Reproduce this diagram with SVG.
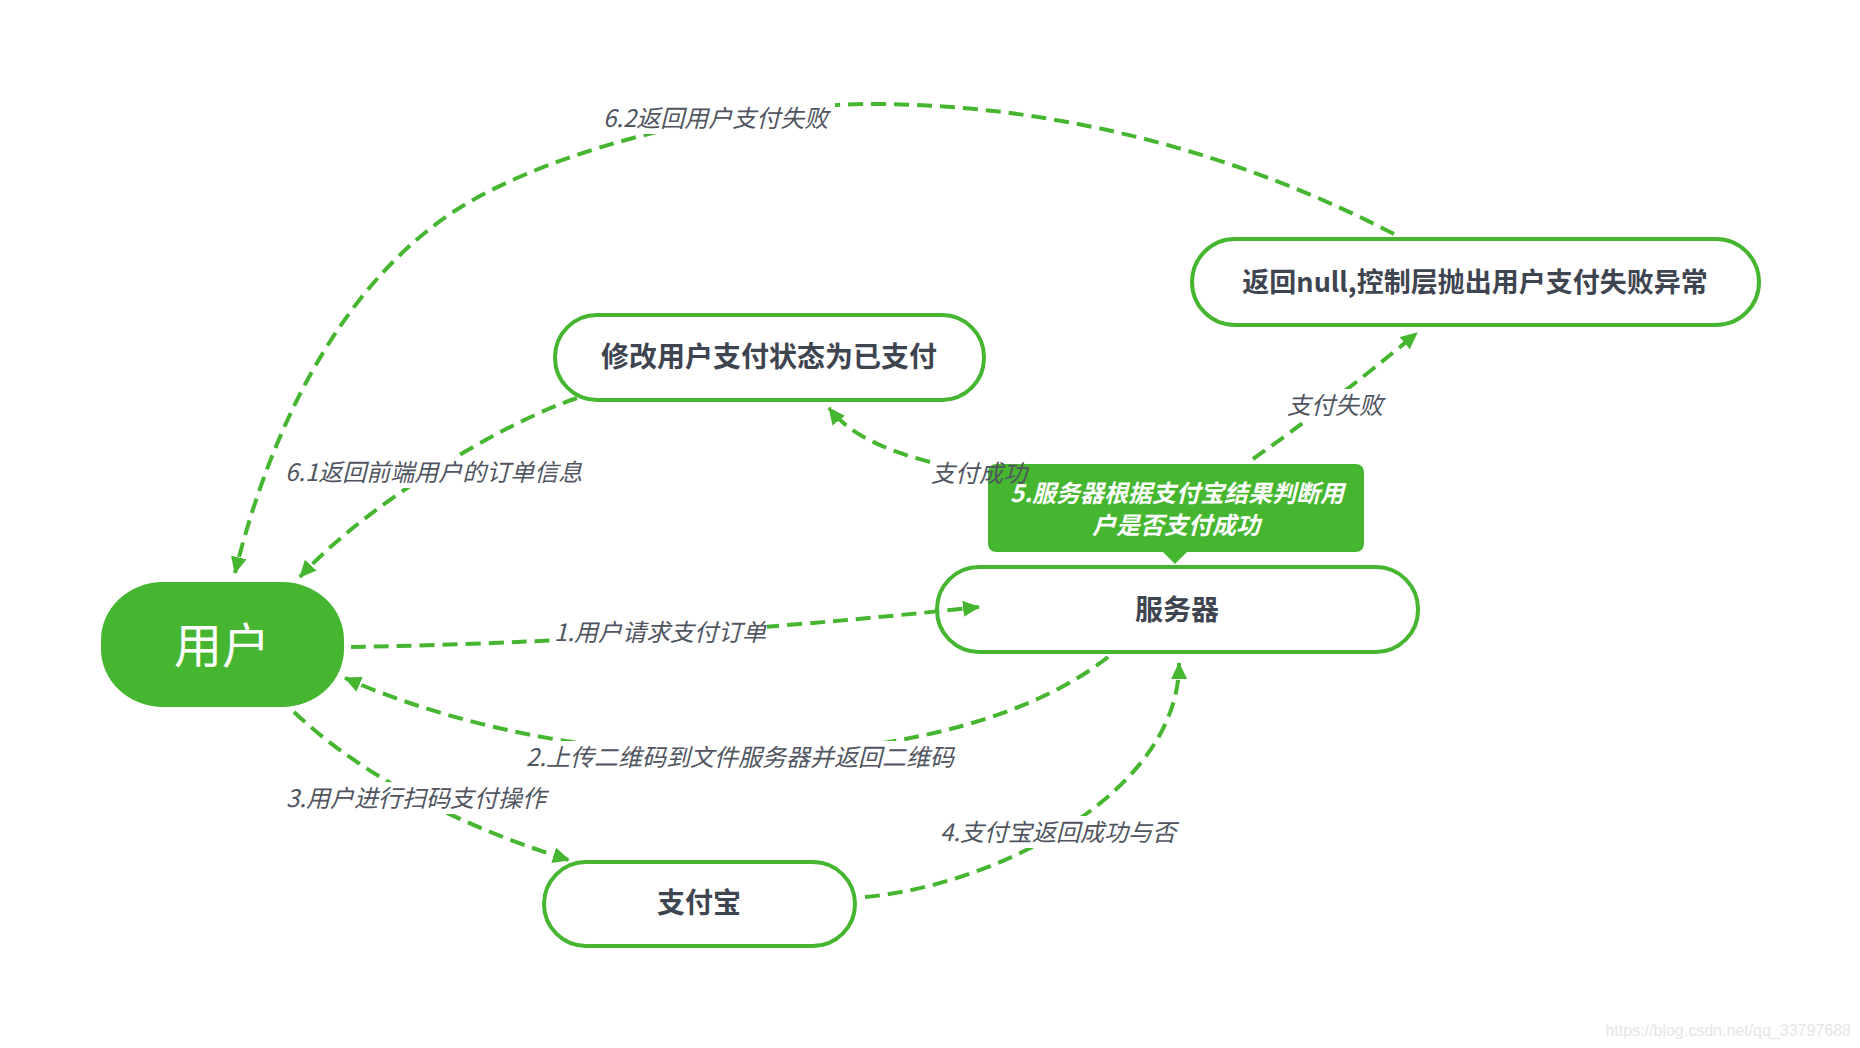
<svg xmlns="http://www.w3.org/2000/svg" width="1860" height="1048" viewBox="0 0 1860 1048">
<defs>
<style>
.node{fill:#ffffff;stroke:#46b630;stroke-width:4}
.ntxt{font-family:"Noto Sans CJK SC","Noto Sans",sans-serif;font-weight:700;font-size:28px;fill:#3e4450;text-anchor:middle}
.conn{fill:none;stroke:#46b630;stroke-width:4;stroke-dasharray:15 8}
.lbl{font-family:"Noto Sans CJK SC","Noto Sans",sans-serif;font-style:italic;font-size:24px;fill:#50555f}
.bg{fill:#ffffff}
</style>
<marker id="arr" viewBox="0 0 17 16" refX="16" refY="8" markerWidth="17" markerHeight="16" markerUnits="userSpaceOnUse" orient="auto">
<path d="M0,0 L17,8 L0,16 Z" fill="#46b630"/>
</marker>
</defs>
<rect width="1860" height="1048" fill="#ffffff"/>

<g id="node-user">
<rect x="101" y="582" width="243" height="125" rx="62" ry="58" fill="#46b630"/>
<text x="222" y="663" font-family="'Noto Sans CJK SC','Noto Sans',sans-serif" font-size="48" fill="#ffffff" text-anchor="middle">用户</text>
</g>

<g id="node-server">
<rect class="node" x="937" y="567" width="481" height="85" rx="42"/>
<text class="ntxt" x="1177" y="620">服务器</text>
</g>

<g id="node-callout">
<rect x="988" y="464" width="376" height="88" rx="8" fill="#46b630"/>
<path d="M1162,551 L1188,551 L1175,564 Z" fill="#46b630"/>
<text x="1177" y="502" font-family="'Noto Sans CJK SC','Noto Sans',sans-serif" font-weight="700" font-style="italic" font-size="24" fill="#ffffff" text-anchor="middle">5.服务器根据支付宝结果判断用</text>
<text x="1176" y="534" font-family="'Noto Sans CJK SC','Noto Sans',sans-serif" font-weight="700" font-style="italic" font-size="24" fill="#ffffff" text-anchor="middle">户是否支付成功</text>
</g>

<g id="node-modify">
<rect class="node" x="555" y="315" width="429" height="85" rx="42"/>
<text class="ntxt" x="769" y="367">修改用户支付状态为已支付</text>
</g>

<g id="node-fail">
<rect class="node" x="1192" y="239" width="567" height="86" rx="43"/>
<text class="ntxt" x="1475" y="292" style="font-size:27px">返回null,控制层抛出用户支付失败异常</text>
</g>

<g id="node-alipay">
<rect class="node" x="544" y="862" width="311" height="84" rx="42"/>
<text class="ntxt" x="699" y="913">支付宝</text>
</g>

<g id="connectors">
<path class="conn" marker-end="url(#arr)" d="M351,647 Q650,642 979,607"/>
<path class="conn" marker-end="url(#arr)" d="M1108,657 C960,775 600,790 345,678"/>
<path class="conn" marker-end="url(#arr)" d="M294,712 C350,765 440,820 569,860"/>
<path class="conn" marker-end="url(#arr)" d="M865,897 C1000,885 1180,790 1179,663"/>
<path class="conn" marker-end="url(#arr)" d="M930,462 C885,450 850,435 829,408"/>
<path class="conn" marker-end="url(#arr)" d="M1253,459 Q1330,405 1417,333"/>
<path class="conn" marker-end="url(#arr)" d="M577,398 C510,420 370,500 300,577"/>
<path class="conn" marker-end="url(#arr)" d="M1394,234 C1234,151 1052,104 872,104 C740,104 560,146 461,207 C339,283 269,434 235,573"/>
</g>

<g id="labels">
<rect class="bg" x="551" y="617" width="216" height="31"/>
<text class="lbl" x="554" y="641">1.用户请求支付订单</text>
<rect class="bg" x="524" y="741" width="432" height="32"/>
<text class="lbl" x="526" y="766">2.上传二维码到文件服务器并返回二维码</text>
<rect class="bg" x="284" y="782" width="267" height="32"/>
<text class="lbl" x="286" y="807">3.用户进行扫码支付操作</text>
<rect class="bg" x="938" y="816" width="237" height="32"/>
<text class="lbl" x="940" y="841">4.支付宝返回成功与否</text>
<rect class="bg" x="283" y="456" width="303" height="32"/>
<text class="lbl" x="285" y="481">6.1返回前端用户的订单信息</text>
<rect class="bg" x="600" y="102" width="235" height="32"/>
<text class="lbl" x="603" y="127">6.2返回用户支付失败</text>
<rect class="bg" x="1285" y="389" width="99" height="32"/>
<text class="lbl" x="1287" y="414">支付失败</text>
<text class="lbl" x="931" y="482">支付成功</text>
</g>

<text x="1851" y="1036" font-family="'Liberation Sans',Arial,sans-serif" font-size="16" fill="#e6e6e6" text-anchor="end">https://blog.csdn.net/qq_33797688</text>
</svg>
